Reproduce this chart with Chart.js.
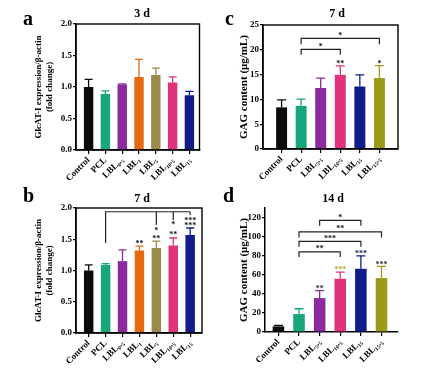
<!DOCTYPE html>
<html>
<head>
<meta charset="utf-8">
<script src="https://cdn.jsdelivr.net/npm/chart.js@4.4.0/dist/chart.umd.min.js"></script>
<style>
  html, body { margin: 0; padding: 0; background: #fff; }
  #wrap { position: relative; width: 431px; height: 380px; overflow: hidden; }
  canvas { position: absolute; }
</style>
</head>
<body>
<div id="wrap">
  <canvas id="chartA" width="215" height="185" style="left:0;top:0"></canvas>
  <canvas id="chartB" width="215" height="195" style="left:0;top:185px"></canvas>
  <canvas id="chartC" width="216" height="185" style="left:215px;top:0"></canvas>
  <canvas id="chartD" width="216" height="195" style="left:215px;top:185px"></canvas>
</div>
<script>
const FONT = 'Liberation Serif';

// GlcAT-I expression (panels a, b)
const glcLabels = ['Control', 'PCL', 'LBL₀.₅', 'LBL₁', 'LBL₅', 'LBL₁₀.₅', 'LBL₁₅'];
const glcColors = ['#0b0b0b', '#17a67c', '#8a2a9c', '#e46a12', '#9c8a4c', '#e0337a', '#101c8c'];
const glcTicks = [0, 0.5, 1.0, 1.5, 2.0];
const day3Means = [1.00, 0.89, 1.04, 1.16, 1.19, 1.07, 0.87];
const day3Errors = [0.12, 0.05, 0.01, 0.28, 0.11, 0.09, 0.06];
const day7Means = [1.00, 1.09, 1.15, 1.32, 1.36, 1.40, 1.57];
const day7Errors = [0.09, 0.02, 0.18, 0.07, 0.11, 0.12, 0.11];

// GAG content (panels c, d)
const gagLabels = ['Control', 'PCL', 'LBL₅.₅', 'LBL₁₀.₅', 'LBL₁₅', 'LBL₁₅.₅'];
const gagColors = ['#0b0b0b', '#17a67c', '#8a2a9c', '#e0337a', '#101c8c', '#9c9a18'];
const gag7Ticks = [0, 5, 10, 15, 20, 25];
const gag14Ticks = [0, 20, 40, 60, 80, 100, 120];
const gag7Means = [8.4, 8.7, 12.3, 14.95, 12.6, 14.3];
const gag7Errors = [1.5, 1.35, 2.0, 1.8, 2.35, 2.5];
const gag14Means = [5.9, 18.8, 35.6, 55.8, 66.3, 56.5];
const gag14Errors = [1.1, 5.6, 7.7, 7.0, 13.6, 12.2];

// significance marks: [bar, value at mark centre, text, colour]
const day7Stars = [[3, 1.45, '**'], [4, 1.53, '**'], [4, 1.67, '*'], [5, 1.595, '**'], [5, 1.755, '*'], [6, 1.744, '***'], [6, 1.824, '***']];
const gag7Stars = [[3, 17.6, '**'], [5, 17.6, '*']];
const gag14Stars = [[2, 47, '**', '#3b1846'], [3, 66.6, '***', '#b3a52c'], [4, 84, '***', '#121c5c'], [5, 72.6, '***', '#333']];
// brackets: [from bar, to bar, level, drop, text]
const gag7Brackets = [[1, 3, 20.1, 1.1, '*'], [1, 5, 22.3, 1.2, '*']];
const gag14Brackets = [[2, 4, 117, 5.5, '*'], [1, 5, 105, 6, '**'], [1, 4, 95, 5.5, '***'], [1, 3, 84, 5.5, '**']];
// day 7 comb: PCL against LBL5, LBL10.5, LBL15
const day7Comb = { from: 1, level: 1.94, base: 1.44, drops: [[4, 1.73], [5, 1.81], [6, 1.89]] };

function marks(p) {
  return {
    id: 'marks',
    afterDatasetsDraw(chart) {
      const { ctx, chartArea: a, scales: { x, y } } = chart;
      ctx.save();
      // upper error bars
      p.means.forEach((m, i) => {
        const cx = x.getPixelForValue(i);
        const top = y.getPixelForValue(m + p.errors[i]);
        ctx.strokeStyle = p.colors[i];
        ctx.lineWidth = 1.3;
        ctx.beginPath();
        ctx.moveTo(cx, y.getPixelForValue(m));
        ctx.lineTo(cx, top);
        ctx.moveTo(cx - p.cap, top);
        ctx.lineTo(cx + p.cap, top);
        ctx.stroke();
      });

      if (p.box) {
        ctx.strokeStyle = '#000';
        ctx.lineWidth = 1.4;
        ctx.strokeRect(a.left, a.top, a.right - a.left, a.bottom - a.top);
      }

      ctx.strokeStyle = '#222';
      ctx.fillStyle = '#111';
      ctx.lineWidth = 1.2;
      ctx.font = 'bold 8px ' + FONT;
      ctx.textAlign = 'center';
      ctx.textBaseline = 'alphabetic';

      (p.brackets || []).forEach(([f, t, lvl, drop, txt]) => {
        const x1 = x.getPixelForValue(f), x2 = x.getPixelForValue(t);
        const yl = y.getPixelForValue(lvl), yd = y.getPixelForValue(lvl - drop);
        ctx.beginPath();
        ctx.moveTo(x1, yd);
        ctx.lineTo(x1, yl);
        ctx.lineTo(x2, yl);
        ctx.lineTo(x2, yd);
        ctx.stroke();
        ctx.fillText(txt, (x1 + x2) / 2, yl - 0.5);
      });

      if (p.comb) {
        const c = p.comb;
        const yl = y.getPixelForValue(c.level);
        const x1 = x.getPixelForValue(c.from);
        const xEnd = x.getPixelForValue(c.drops[c.drops.length - 1][0]);
        ctx.beginPath();
        ctx.moveTo(x1, y.getPixelForValue(c.base));
        ctx.lineTo(x1, yl);
        ctx.lineTo(xEnd, yl);
        c.drops.forEach(([i, to]) => {
          ctx.moveTo(x.getPixelForValue(i), yl);
          ctx.lineTo(x.getPixelForValue(i), y.getPixelForValue(to));
        });
        ctx.stroke();
      }

      (p.stars || []).forEach(([i, v, txt, col]) => {
        ctx.fillStyle = col || '#111';
        ctx.fillText(txt, x.getPixelForValue(i), y.getPixelForValue(v) + 4);
      });

      // panel title and letter
      ctx.fillStyle = '#000';
      ctx.font = 'bold 12px ' + FONT;
      ctx.textAlign = 'center';
      ctx.fillText(p.title, p.titleAt[0], p.titleAt[1]);
      ctx.font = 'bold 20px ' + FONT;
      ctx.textAlign = 'left';
      ctx.fillText(p.letter, p.letterAt[0], p.letterAt[1]);
      ctx.restore();
    }
  };
}

function makePanel(p) {
  const canvas = document.getElementById(p.id);
  const W = canvas.width, H = canvas.height;
  const tickFont = { family: FONT, size: 9, weight: 'bold' };
  new Chart(canvas, {
    type: 'bar',
    data: {
      labels: p.labels,
      datasets: [{
        data: p.means.map((v, i) => ({ x: i, y: v })),
        backgroundColor: p.colors,
        borderWidth: 0,
        barPercentage: 0.56,
        categoryPercentage: 1
      }]
    },
    options: {
      responsive: false,
      animation: false,
      events: [],
      layout: { padding: { top: p.area.top, right: W - p.area.right, left: 0, bottom: 0 } },
      plugins: { legend: { display: false }, tooltip: { enabled: false }, title: { display: false } },
      scales: {
        x: {
          type: 'linear',
          min: p.xMin,
          max: p.xMax,
          offset: false,
          afterBuildTicks: s => { s.ticks = p.labels.map((_, i) => ({ value: i })); },
          afterFit: s => { s.height = H - p.area.bottom; },
          grid: { display: true, offset: false, drawOnChartArea: false, drawTicks: true, tickLength: 4, color: '#000', lineWidth: 1.2 },
          border: { display: true, color: '#000', width: 1.5 },
          ticks: {
            autoSkip: false, maxRotation: 45, minRotation: 45, padding: 1,
            color: '#000', font: tickFont,
            callback: v => p.labels[v]
          }
        },
        y: {
          min: 0,
          max: p.yMax,
          afterBuildTicks: s => { s.ticks = p.ticks.map(v => ({ value: v })); },
          afterFit: s => { s.width = p.area.left; },
          grid: { display: true, drawOnChartArea: false, drawTicks: true, tickLength: 3, color: '#000', lineWidth: 1.2 },
          border: { display: true, color: '#000', width: 1.5 },
          ticks: { padding: 1, color: '#000', font: tickFont, callback: v => v.toFixed(p.dec) },
          title: {
            display: true, text: p.yTitle, color: '#000',
            font: { family: FONT, size: p.titleSize, weight: 'bold', lineHeight: p.titleLH },
            padding: { top: p.titlePad, bottom: 0 }
          }
        }
      }
    },
    plugins: [marks(p)]
  });
}

const glcTitle = ['GlcAT-I expression/β-actin', '(fold change)'];
const gagTitle = 'GAG content (μg/mL)';

makePanel({
  id: 'chartA', labels: glcLabels, colors: glcColors, means: day3Means, errors: day3Errors,
  ticks: glcTicks, yMax: 2.0, dec: 1, yTitle: glcTitle, titleSize: 9, titleLH: 1.25, titlePad: 33,
  area: { left: 76, right: 199.5, top: 24, bottom: 150 }, xMin: -0.75, xMax: 6.6, cap: 4, box: true,
  title: '3 d', titleAt: [142, 17], letter: 'a', letterAt: [23, 25]
});

makePanel({
  id: 'chartB', labels: glcLabels, colors: glcColors, means: day7Means, errors: day7Errors,
  ticks: glcTicks, yMax: 2.0, dec: 1, yTitle: glcTitle, titleSize: 9, titleLH: 1.25, titlePad: 33,
  area: { left: 76, right: 202, top: 23, bottom: 148 }, xMin: -0.75, xMax: 6.7, cap: 4, box: true,
  stars: day7Stars, comb: day7Comb,
  title: '7 d', titleAt: [142, 17], letter: 'b', letterAt: [23, 17]
});

makePanel({
  id: 'chartC', labels: gagLabels, colors: gagColors, means: gag7Means, errors: gag7Errors,
  ticks: gag7Ticks, yMax: 25, dec: 0, yTitle: gagTitle, titleSize: 11, titleLH: 1.2, titlePad: 22.4,
  area: { left: 48, right: 183, top: 25, bottom: 149 }, xMin: -0.95, xMax: 5.95, cap: 4.5, box: true,
  stars: gag7Stars, brackets: gag7Brackets,
  title: '7 d', titleAt: [122, 17], letter: 'c', letterAt: [10, 25]
});

makePanel({
  id: 'chartD', labels: gagLabels, colors: gagColors, means: gag14Means, errors: gag14Errors,
  ticks: gag14Ticks, yMax: 130, dec: 0, yTitle: gagTitle, titleSize: 11, titleLH: 1.2, titlePad: 22.4,
  area: { left: 50, right: 183, top: 23, bottom: 147 }, xMin: -0.65, xMax: 5.8, cap: 4.5, box: false,
  stars: gag14Stars, brackets: gag14Brackets,
  title: '14 d', titleAt: [118, 17], letter: 'd', letterAt: [8, 17]
});
</script>
</body>
</html>
